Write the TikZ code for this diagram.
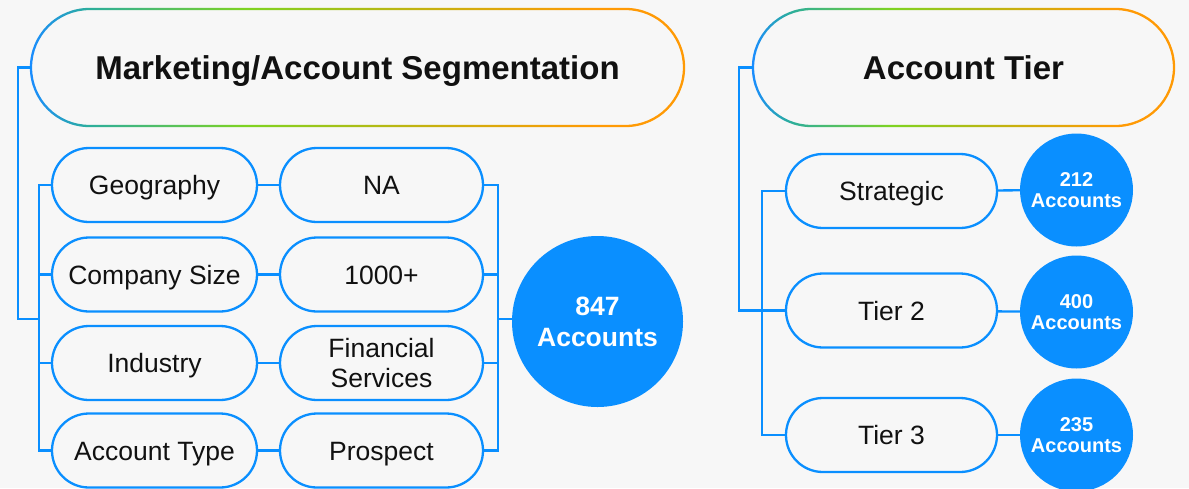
\documentclass[tikz,border=0pt]{standalone}
\usepackage{fontspec}
\setmainfont{Liberation Sans}
\definecolor{bg}{HTML}{F7F7F7}
\definecolor{mblue}{HTML}{0A8FFF}
\definecolor{txt}{HTML}{111111}
\definecolor{gblue}{HTML}{1A8CFF}
\definecolor{gteal}{HTML}{2CAE9C}
\definecolor{ggreen}{HTML}{7ED321}
\definecolor{golive}{HTML}{C4B210}
\definecolor{gorange}{HTML}{FF9A05}
\pgfdeclarehorizontalshading{hdrgrad}{100bp}{color(0bp)=(gblue); color(25bp)=(gblue); color(29.5bp)=(gteal); color(41.5bp)=(ggreen); color(55bp)=(golive); color(68bp)=(gorange); color(100bp)=(gorange)}
\begin{document}
\begin{tikzpicture}[x=1pt,y=-1pt,
  conn/.style={draw=mblue, line width=2.3pt},
  hdr/.style={minimum height=117pt, inner sep=0pt, outer sep=0pt, text=txt,
    font=\bfseries\fontsize{33}{36}\selectfont, text height=23.6pt, text depth=0pt},
  pillbase/.style={draw=mblue, line width=2.3pt, rounded corners=36.9pt, minimum height=74pt,
    inner sep=0pt, outer sep=0pt, text=txt, align=center,
    font=\fontsize{26.5}{30}\selectfont},
  pill/.style={pillbase, text height=19pt, text depth=0pt},
  bigc/.style={circle, fill=mblue, minimum size=171pt, inner sep=0pt, outer sep=0pt,
    text=white, align=center, font=\bfseries\fontsize{26.5}{31}\selectfont},
  smallc/.style={circle, fill=mblue, minimum size=113pt, inner sep=0pt, outer sep=0pt,
    text=white, align=center, font=\bfseries\fontsize{20}{20.5}\selectfont}
]
\fill[bg] (0,0) rectangle (1189,488);
\useasboundingbox (0,0) rectangle (1189,488);

% header gradient rings
\shade[shading=hdrgrad, even odd rule]
  {[rounded corners=59.6pt] (29.85,7.85) rectangle (685.15,127.15)}
  {[rounded corners=57.3pt] (32.15,10.15) rectangle (682.85,124.85)};
\shade[shading=hdrgrad, even odd rule]
  {[rounded corners=59.6pt] (751.85,7.85) rectangle (1175.15,127.15)}
  {[rounded corners=57.3pt] (754.15,10.15) rectangle (1172.85,124.85)};

\node[hdr, minimum width=653pt] (h1) at (357.5,67.5) {Marketing/Account Segmentation};
\node[hdr, minimum width=421pt] (h2) at (963.5,67.5) {Account Tier};

% left pills
\node[pill, minimum width=205pt] (a1) at (154.5,185) {Geography};
\node[pill, minimum width=205pt] (a2) at (154.5,274.5) {Company Size};
\node[pill, minimum width=205pt] (a3) at (154.5,363) {Industry};
\node[pill, minimum width=205pt] (a4) at (154.5,450.5) {Account Type};
\node[pill, minimum width=203pt] (b1) at (381.5,185) {NA};
\node[pill, minimum width=203pt] (b2) at (381.5,274.5) {1000+};
\node[pillbase, minimum width=203pt] (b3) at (381.5,363) {Financial\\Services};
\node[pill, minimum width=203pt] (b4) at (381.5,450.5) {Prospect};

\node[bigc] (c0) at (597.5,321.5) {847\\Accounts};

% right pills
\node[pill, minimum width=211pt] (t1) at (891.5,191) {Strategic};
\node[pill, minimum width=211pt] (t2) at (891.5,310.5) {Tier 2};
\node[pill, minimum width=211pt] (t3) at (891.5,435) {Tier 3};
\node[smallc] (d1) at (1076.5,190) {212\\Accounts};
\node[smallc] (d2) at (1076.5,312) {400\\Accounts};
\node[smallc] (d3) at (1076.5,435) {235\\Accounts};

% left connectors
\coordinate (jl) at (39,319);
\coordinate (jr) at (498,319);
\draw[conn] (h1.west) -- ++(-13,0) |- (jl);
\draw[conn] (a1.west) -- ++(-13,0) |- (a4.west);
\draw[conn] (a2.west) -- ++(-13,0);
\draw[conn] (a3.west) -- ++(-13,0);
\draw[conn] (a1) -- (b1);
\draw[conn] (a2) -- (b2);
\draw[conn] (a3) -- (b3);
\draw[conn] (a4) -- (b4);
\draw[conn] (b1.east) -- ++(15,0) |- (b4.east);
\draw[conn] (b2.east) -- ++(15,0);
\draw[conn] (b3.east) -- ++(15,0);
\draw[conn] (jr) -- (jr -| c0.west);

% right connectors
\draw[conn] (h2.west) -- ++(-14,0) |- (t2.west);
\draw[conn] (t1.west) -- ++(-24,0) |- (t3.west);
\draw[conn] (t1) -- (d1);
\draw[conn] (t2) -- (d2);
\draw[conn] (t3) -- (d3);
\end{tikzpicture}
\end{document}
